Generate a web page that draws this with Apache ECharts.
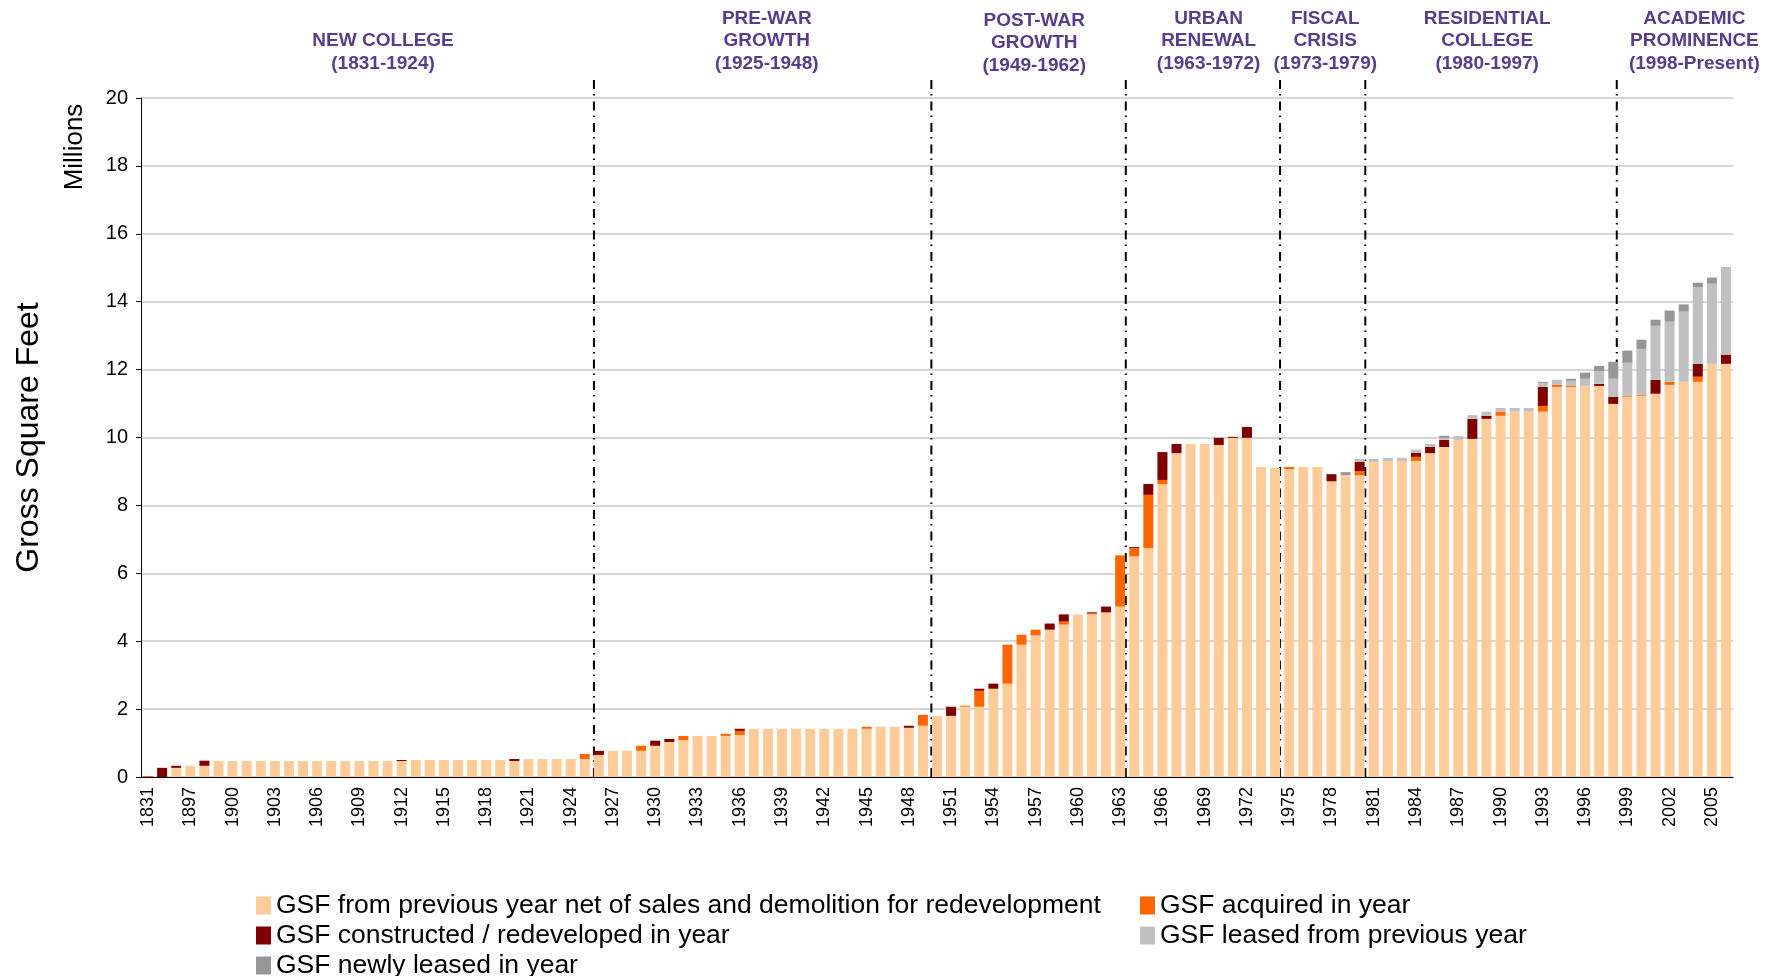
<!DOCTYPE html>
<html style="height: 100%">
<head>
    <meta charset="utf-8">
</head>
<body style="height: 100%; margin: 0">
<div id="container" style="width: 1776px; height: 976px;"></div>

<script type="text/javascript" src="https://cdn.jsdelivr.net/npm/echarts@6/dist/echarts.min.js"></script>
<script type="text/javascript">
    // years on the category axis (only every third one is labelled)
    var years = [
        '1831', '1895', '1896', '1897', '1898', '1899', '1900', '1901', '1902', '1903',
        '1904', '1905', '1906', '1907', '1908', '1909', '1910', '1911', '1912', '1913',
        '1914', '1915', '1916', '1917', '1918', '1919', '1920', '1921', '1922', '1923',
        '1924', '1925', '1926', '1927', '1928', '1929', '1930', '1931', '1932', '1933',
        '1934', '1935', '1936', '1937', '1938', '1939', '1940', '1941', '1942', '1943',
        '1944', '1945', '1946', '1947', '1948', '1949', '1950', '1951', '1952', '1953',
        '1954', '1955', '1956', '1957', '1958', '1959', '1960', '1961', '1962', '1963',
        '1964', '1965', '1966', '1967', '1968', '1969', '1970', '1971', '1972', '1973',
        '1974', '1975', '1976', '1977', '1978', '1979', '1980', '1981', '1982', '1983',
        '1984', '1985', '1986', '1987', '1988', '1989', '1990', '1991', '1992', '1993',
        '1994', '1995', '1996', '1997', '1998', '1999', '2000', '2001', '2002', '2003',
        '2004', '2005', '2006'
    ];

    // millions of GSF
    var previousNet = [
        0, 0, 0.27, 0.33, 0.33, 0.47, 0.47, 0.47, 0.47, 0.47,
        0.47, 0.47, 0.47, 0.47, 0.47, 0.47, 0.47, 0.47, 0.47, 0.50,
        0.50, 0.50, 0.50, 0.50, 0.50, 0.50, 0.47, 0.53, 0.53, 0.53,
        0.53, 0.53, 0.65, 0.77, 0.77, 0.77, 0.92, 1.03, 1.09, 1.21,
        1.21, 1.21, 1.24, 1.42, 1.42, 1.42, 1.42, 1.42, 1.42, 1.42,
        1.42, 1.42, 1.48, 1.48, 1.45, 1.51, 1.80, 1.80, 2.07, 2.07,
        2.60, 2.75, 3.90, 4.17, 4.34, 4.49, 4.79, 4.79, 4.85, 5.02,
        6.50, 6.74, 8.63, 9.54, 9.81, 9.81, 9.78, 9.99, 9.99, 9.13,
        9.10, 9.07, 9.13, 9.13, 8.71, 8.89, 8.89, 9.28, 9.31, 9.31,
        9.31, 9.54, 9.72, 9.93, 9.96, 10.55, 10.64, 10.76, 10.76, 10.76,
        11.49, 11.49, 11.52, 11.52, 10.99, 11.20, 11.23, 11.29, 11.55, 11.64,
        11.64, 12.17, 12.17
    ];
    var acquired = [
        0.03, 0, 0, 0, 0, 0, 0, 0, 0, 0,
        0, 0, 0, 0, 0, 0, 0, 0, 0, 0,
        0, 0, 0, 0, 0, 0, 0, 0, 0, 0,
        0, 0.15, 0, 0, 0, 0.15, 0, 0, 0.12, 0,
        0, 0.06, 0.12, 0, 0, 0, 0, 0, 0, 0,
        0, 0.06, 0, 0, 0, 0.32, 0, 0, 0.03, 0.47,
        0, 1.15, 0.29, 0.17, 0, 0.09, 0, 0.03, 0, 1.51,
        0.24, 1.57, 0.12, 0, 0, 0, 0, 0, 0, 0,
        0, 0.06, 0, 0, 0, 0, 0.12, 0, 0, 0,
        0.12, 0, 0, 0, 0, 0, 0.12, 0, 0, 0.17,
        0.06, 0.03, 0, 0, 0, 0.03, 0.03, 0, 0.09, 0,
        0.15, 0, 0
    ];
    var constructed = [
        0, 0.27, 0.06, 0, 0.15, 0, 0, 0, 0, 0,
        0, 0, 0, 0, 0, 0, 0, 0, 0.03, 0,
        0, 0, 0, 0, 0, 0, 0.06, 0, 0, 0,
        0, 0, 0.12, 0, 0, 0, 0.15, 0.09, 0, 0,
        0, 0, 0.06, 0, 0, 0, 0, 0, 0, 0,
        0, 0, 0, 0, 0.06, 0, 0, 0.27, 0, 0.06,
        0.15, 0, 0, 0, 0.18, 0.21, 0, 0.03, 0.17, 0,
        0.03, 0.32, 0.82, 0.27, 0, 0, 0.21, 0.03, 0.32, 0,
        0, 0, 0, 0, 0.21, 0, 0.27, 0, 0, 0,
        0.12, 0.18, 0.21, 0, 0.59, 0.09, 0, 0, 0, 0.56,
        0, 0, 0, 0.06, 0.21, 0, 0, 0.41, 0, 0,
        0.38, 0, 0.27
    ];
    var leasedPrevious = [
        0, 0, 0, 0, 0, 0, 0, 0, 0, 0, 0, 0, 0, 0, 0, 0, 0, 0, 0, 0,
        0, 0, 0, 0, 0, 0, 0, 0, 0, 0, 0, 0, 0, 0, 0, 0, 0, 0, 0, 0,
        0, 0, 0, 0, 0, 0, 0, 0, 0, 0, 0, 0, 0, 0, 0, 0, 0, 0, 0, 0,
        0, 0, 0, 0, 0, 0, 0, 0, 0, 0, 0, 0, 0, 0, 0, 0, 0, 0, 0, 0,
        0, 0, 0, 0, 0, 0, 0.09, 0.09, 0.09, 0.09,
        0.09, 0.09, 0.06, 0.11, 0.11, 0.12, 0.11, 0.11, 0.11, 0.12,
        0.15, 0.15, 0.21, 0.38, 0.53, 0.97, 1.35, 1.59, 1.77, 2.07,
        2.25, 2.36, 2.54
    ];
    var newlyLeased = [
        0, 0, 0, 0, 0, 0, 0, 0, 0, 0, 0, 0, 0, 0, 0, 0, 0, 0, 0, 0,
        0, 0, 0, 0, 0, 0, 0, 0, 0, 0, 0, 0, 0, 0, 0, 0, 0, 0, 0, 0,
        0, 0, 0, 0, 0, 0, 0, 0, 0, 0, 0, 0, 0, 0, 0, 0, 0, 0, 0, 0,
        0, 0, 0, 0, 0, 0, 0, 0, 0, 0, 0, 0, 0, 0, 0, 0, 0, 0, 0, 0,
        0, 0, 0, 0, 0, 0.09, 0, 0, 0, 0,
        0, 0, 0.06, 0, 0, 0, 0, 0, 0, 0.03,
        0, 0.06, 0.18, 0.15, 0.50, 0.36, 0.27, 0.18, 0.33, 0.21,
        0.14, 0.18, 0.03
    ];

    var seriesNames = [
        'GSF from previous year net of sales and demolition for redevelopment',
        'GSF acquired in year',
        'GSF constructed / redeveloped in year',
        'GSF leased from previous year',
        'GSF newly leased in year'
    ];

    // era dividers, in category units (0 = left edge of the first bar slot)
    var eraDividers = [32.15, 56.1, 69.9, 80.85, 86.9, 104.75];
    var eraLabels = [
        'NEW COLLEGE\n(1831-1924)',
        'PRE-WAR\nGROWTH\n(1925-1948)',
        'POST-WAR\nGROWTH\n(1949-1962)',
        'URBAN\nRENEWAL\n(1963-1972)',
        'FISCAL\nCRISIS\n(1973-1979)',
        'RESIDENTIAL\nCOLLEGE\n(1980-1997)',
        'ACADEMIC\nPROMINENCE\n(1998-Present)'
    ];
    // where each era heading is centred, same units
    var eraLabelAt = [17.18, 44.42, 63.4, 75.78, 84.06, 95.55, 110.26];

    var yTicks = { min: 0, max: 20, interval: 2 };

    var colors = ['#ffcc99', '#ff6600', '#800000', '#c0c0c0', '#969696'];
    var font = 'Liberation Sans, Arial, sans-serif';

    var dom = document.getElementById('container');
    var myChart = echarts.init(dom);

    var values = [previousNet, acquired, constructed, leasedPrevious, newlyLeased];
    var barSeries = seriesNames.map(function (name, i) {
        return {
            name: name,
            type: 'bar',
            stack: 'gsf',
            barWidth: 10,
            itemStyle: { color: colors[i] },
            data: values[i]
        };
    });

    var legendText = { fontSize: 26.5, color: '#000', fontFamily: font };

    var option = {
        animation: false,
        textStyle: { fontFamily: font },
        color: colors,
        grid: { left: 141, right: 43, top: 98, bottom: 199 },
        legend: [{
            data: [seriesNames[0], seriesNames[2], seriesNames[4]],
            orient: 'vertical',
            left: 251,
            top: 887,
            height: 120,
            itemWidth: 15,
            itemHeight: 18,
            itemGap: 3,
            icon: 'rect',
            textStyle: legendText
        }, {
            data: [seriesNames[1], seriesNames[3]],
            orient: 'vertical',
            left: 1135,
            top: 887,
            height: 120,
            itemWidth: 15,
            itemHeight: 18,
            itemGap: 3,
            icon: 'rect',
            textStyle: legendText
        }],
        xAxis: [{
            type: 'category',
            data: years,
            axisLine: { lineStyle: { color: '#000', width: 1 } },
            axisTick: { interval: 0, length: 6, lineStyle: { color: '#000' } },
            axisLabel: { interval: 2, rotate: 90, fontSize: 18, color: '#000', margin: 10 }
        }, {
            type: 'value',
            min: 0,
            max: years.length,
            show: false
        }],
        yAxis: {
            type: 'value',
            min: yTicks.min,
            max: yTicks.max,
            interval: yTicks.interval,
            name: 'Gross Square Feet',
            nameLocation: 'middle',
            nameGap: 96,
            nameTextStyle: { fontSize: 32, color: '#000' },
            axisLine: { show: true, lineStyle: { color: '#000' } },
            axisTick: { show: true, length: 5, lineStyle: { color: '#000' } },
            axisLabel: { fontSize: 20, color: '#000', margin: 13 },
            splitLine: { lineStyle: { color: '#c8c8c8', width: 1.5 } }
        },
        graphic: [{
            type: 'text',
            x: 75,
            y: 147,
            rotation: Math.PI / 2,
            style: {
                text: 'Millions',
                fontSize: 26,
                fontFamily: font,
                fill: '#000',
                textAlign: 'center',
                textVerticalAlign: 'middle'
            }
        }],
        series: barSeries.concat([{
            name: 'dividers',
            type: 'custom',
            xAxisIndex: 1,
            yAxisIndex: 0,
            silent: true,
            clip: false,
            data: eraDividers.map(function (d) { return [d, 0]; }),
            renderItem: function (params, api) {
                var p0 = api.coord([api.value(0), 0]);
                var p1 = api.coord([api.value(0), 20]);
                return {
                    type: 'line',
                    shape: { x1: p0[0], y1: p0[1], x2: p1[0], y2: p1[1] - 20 },
                    style: { stroke: '#000', lineWidth: 2, lineDash: [9, 6, 1.5, 5] }
                };
            }
        }, {
            name: 'eras',
            type: 'custom',
            xAxisIndex: 1,
            yAxisIndex: 0,
            silent: true,
            clip: false,
            data: eraLabelAt.map(function (c) { return [c, 20]; }),
            renderItem: function (params, api) {
                var p = api.coord([api.value(0), api.value(1)]);
                var lift = params.dataIndex === 2 ? 21 : 23.2;
                return {
                    type: 'text',
                    x: p[0],
                    y: p[1] - lift,
                    style: {
                        text: eraLabels[params.dataIndex],
                        fill: '#5a3c8c',
                        fontWeight: 'bold',
                        fontSize: 19,
                        lineHeight: 22.5,
                        fontFamily: font,
                        textAlign: 'center',
                        textVerticalAlign: 'bottom'
                    }
                };
            }
        }])
    };

    myChart.setOption(option);
</script>
</body>
</html>
